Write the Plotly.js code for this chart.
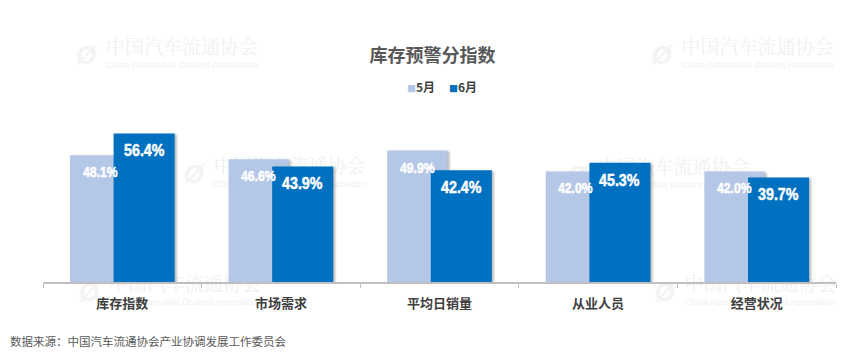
<!DOCTYPE html>
<html>
<head>
<meta charset="utf-8">
<script src="https://cdn.plot.ly/plotly-3.0.1.min.js"></script>
<style>
html,body{margin:0;padding:0;background:#fff;}
#chart{width:865px;height:354px;}
text.annotation-text[style*="Liberation Sans"]{transform-box:fill-box;transform-origin:center;transform:scaleX(0.84);stroke:#ffffff;stroke-width:0.5px;}
g.point path{filter:drop-shadow(2px 1px 1.2px rgba(0,0,0,0.28));}
</style>
</head>
<body>
<div id="chart"></div>
<script>
var categories = ['库存指数', '市场需求', '平均日销量', '从业人员', '经营状况'];
var seriesNames = ['5月', '6月'];
var may = [48.1, 46.6, 49.9, 42.0, 42.0];
var june = [56.4, 43.9, 42.4, 45.3, 39.7];

var CJK = '"Noto Sans CJK SC", "Noto Sans", sans-serif';
var NUM = '"Liberation Sans", Arial, sans-serif';
var colMay = '#b4c7e7', colJune = '#0070c0';
var catPx = (836.5 - 43) / categories.length;
var offMay = -0.33, wMay = 0.38, offJune = -0.055, wJune = 0.385;

var traces = [
  {type: 'bar', x: categories, y: may, name: seriesNames[0], offset: offMay, width: wMay,
   marker: {color: colMay}, showlegend: false, hoverinfo: 'skip'},
  {type: 'bar', x: categories, y: june, name: seriesNames[1], offset: offJune, width: wJune,
   marker: {color: colJune}, showlegend: false, hoverinfo: 'skip'}
];

function px2x(p) { return (p - 43) / 793.5; }
function px2y(p) { return (282 - p) / 158; }

// faint watermarks drawn beneath the bars
var shapes = [];
var wm = [[182, 48], [758, 48], [290, 167], [674, 168], [185, 285], [761, 285]];
wm.forEach(function (p) {
  shapes.push({type: 'rect', layer: 'below', xref: 'paper', yref: 'paper',
    x0: px2x(p[0] - 80), x1: px2x(p[0] + 80), y0: px2y(p[1] + 10), y1: px2y(p[1] - 10),
    line: {width: 0}, fillcolor: 'rgba(0,0,0,0)',
    label: {text: '中国汽车流通协会', textposition: 'middle center',
      font: {family: '"Noto Serif CJK SC", ' + CJK, size: 19, color: '#f0f0f0'}}});
  shapes.push({type: 'rect', layer: 'below', xref: 'paper', yref: 'paper',
    x0: px2x(p[0] - 80), x1: px2x(p[0] + 80), y0: px2y(p[1] + 23), y1: px2y(p[1] + 9),
    line: {width: 0}, fillcolor: 'rgba(0,0,0,0)',
    label: {text: 'China Automobile Dealers Association', textposition: 'middle center',
      font: {family: 'Liberation Sans, Arial, sans-serif', size: 9, color: '#f0f0f0'}}});
  shapes.push({type: 'rect', layer: 'below', xref: 'paper', yref: 'paper',
    x0: px2x(p[0] - 112), x1: px2x(p[0] - 80), y0: px2y(p[1] + 22), y1: px2y(p[1] - 12),
    line: {width: 0}, fillcolor: 'rgba(0,0,0,0)',
    label: {text: '<i><b>Ø</b></i>', textposition: 'middle center',
      font: {family: 'Liberation Sans, Arial, sans-serif', size: 26, color: '#f3f3f3'}}});
});

var annotations = [];
categories.forEach(function (c, i) {
  annotations.push({x: c, y: may[i], xref: 'x', yref: 'y', text: may[i].toFixed(1) + '%',
    showarrow: false, yanchor: 'middle', yshift: -17, xshift: (offMay + wMay / 2) * catPx,
    font: {family: NUM, size: 14.5, color: '#ffffff', weight: 'bold'}});
  annotations.push({x: c, y: june[i], xref: 'x', yref: 'y', text: june[i].toFixed(1) + '%',
    showarrow: false, yanchor: 'middle', yshift: -17, xshift: (offJune + wJune / 2) * catPx,
    font: {family: NUM, size: 17, color: '#ffffff', weight: 'bold'}});
});
// legend entries
[[colMay, seriesNames[0], 407], [colJune, seriesNames[1], 449]].forEach(function (e) {
  annotations.push({xref: 'paper', yref: 'paper', x: px2x(e[2] - 2), y: px2y(86),
    xanchor: 'left', yanchor: 'middle', showarrow: false,
    text: '<span style="color:' + e[0] + ';font-size:9px">■</span>' + e[1],
    font: {family: CJK, size: 12, color: '#404040', weight: 'bold'}});
});
annotations.push({xref: 'paper', yref: 'paper', x: px2x(8), y: px2y(340.5),
  xanchor: 'left', yanchor: 'middle', showarrow: false,
  text: '数据来源：中国汽车流通协会产业协调发展工作委员会',
  font: {family: CJK, size: 11.5, color: '#595959'}});

var layout = {
  width: 865, height: 354,
  margin: {l: 43, r: 28.5, t: 124, b: 72, pad: 0},
  paper_bgcolor: '#ffffff', plot_bgcolor: 'rgba(0,0,0,0)',
  barmode: 'overlay',
  title: {text: '库存预警分指数', x: 0.5, xanchor: 'center', xref: 'container',
    y: 1 - 55.5 / 354, yref: 'container', yanchor: 'middle',
    font: {family: CJK, size: 18, color: '#595959', weight: 'bold'}},
  showlegend: false,
  xaxis: {type: 'category', showline: true, linecolor: '#bfbfbf', linewidth: 1.5,
    ticks: 'outside', tickson: 'boundaries', ticklen: 4, tickcolor: '#bfbfbf',
    ticklabelstandoff: 9,
    showgrid: false, zeroline: false, fixedrange: true,
    tickfont: {family: CJK, size: 13, color: '#404040', weight: 'bold'}},
  yaxis: {range: [0, 60], showticklabels: false, showgrid: false, zeroline: false,
    showline: false, ticks: '', fixedrange: true},
  shapes: shapes,
  annotations: annotations
};

Plotly.newPlot('chart', traces, layout, {displayModeBar: false, staticPlot: true});
</script>
</body>
</html>
